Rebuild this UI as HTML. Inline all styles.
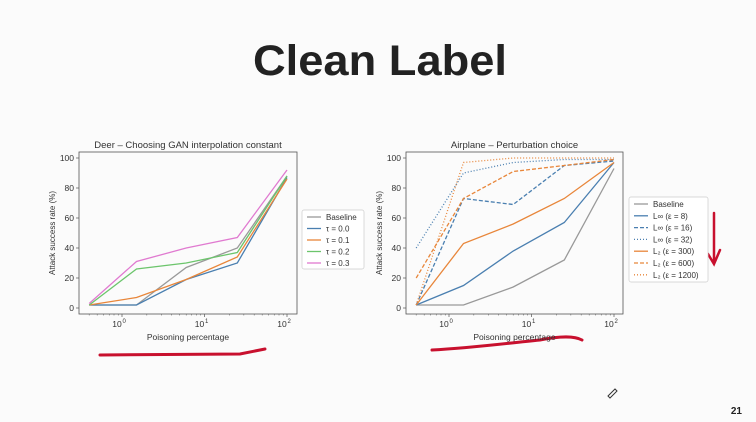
<!DOCTYPE html>
<html><head><meta charset="utf-8"><style>
html,body{margin:0;padding:0;background:#fbfbfb;}
svg{display:block;font-family:"Liberation Sans","DejaVu Sans",sans-serif;}
</style></head><body>
<svg id="s" width="756" height="422" viewBox="0 0 756 422" xmlns="http://www.w3.org/2000/svg">
<rect width="756" height="422" fill="#fbfbfb"/>
<text x="380" y="75" text-anchor="middle" font-size="43" font-weight="bold" fill="#222" textLength="254" lengthAdjust="spacingAndGlyphs">Clean Label</text>
<text x="742" y="414" text-anchor="end" font-size="10" font-weight="bold" fill="#222">21</text>
<path d="M100,355 L240,354 L265,349" stroke="#c8102e" stroke-width="3" fill="none" stroke-linecap="round"/>
<path d="M432,350 C470,348 500,344 540,340 C560,336 575,336 582,340" stroke="#c8102e" stroke-width="3" fill="none" stroke-linecap="round"/>
<path d="M714,213 L714,262 M708,254 L714,264 L720,250" stroke="#c8102e" stroke-width="2.5" fill="none" stroke-linecap="round"/>
<path d="M608,396 L615,389 L617,391 L610,398 Z" stroke="#333" stroke-width="1" fill="none"/>
<g id="c1"></g>
<g id="c2"></g>
</svg>
<script>
const xVals = [0.4, 1.5, 6, 25, 100];
const yTicks = [0, 20, 40, 60, 80, 100];
const xTickExp = [0, 1, 2];
const deerLabels = ["Baseline", "τ = 0.0", "τ = 0.1", "τ = 0.2", "τ = 0.3"];
const deerBaseline = [2, 2, 27, 40, 88];
const deerT00 = [2, 2, 19, 30, 87];
const deerT01 = [2, 7, 19, 34, 86];
const deerT02 = [2, 26, 30, 37, 88];
const deerT03 = [3, 31, 40, 47, 92];
const airLabels = ["Baseline", "L∞ (ε = 8)", "L∞ (ε = 16)", "L∞ (ε = 32)", "L₂ (ε = 300)", "L₂ (ε = 600)", "L₂ (ε = 1200)"];
const airBaseline = [2, 2, 14, 32, 93];
const airLinf8 = [2, 15, 38, 57, 97];
const airLinf16 = [2, 73, 69, 95, 98];
const airLinf32 = [40, 90, 97, 99, 99];
const airL2_300 = [2, 43, 56, 73, 97];
const airL2_600 = [20, 73, 91, 95, 99];
const airL2_1200 = [2, 97, 100, 100, 100];

const NS = "http://www.w3.org/2000/svg";
function mk(parent, tag, attrs, text) {
  const e = document.createElementNS(NS, tag);
  for (const k in attrs) e.setAttribute(k, attrs[k]);
  if (text !== undefined) e.textContent = text;
  parent.appendChild(e);
  return e;
}
const GRAY="#999", BLUE="#4a7fb0", ORANGE="#e8863a", GREEN="#6cc56c", PINK="#e07ad0";

function chart(g, cfg) {
  const xs = v => cfg.x0 + (Math.log10(v)) * cfg.dec;
  const ys = v => cfg.y0 - v * (cfg.y0 - cfg.y100) / 100;
  const t = mk(g, "text", {x:(cfg.L+cfg.R)/2, y:cfg.T-4, "text-anchor":"middle", "font-size":"9.5", fill:"#333"}, cfg.title);
  
  
  yTicks.forEach(v => {
    const y = ys(v);
    const tk = mk(g, "line", {x1:cfg.L-3, x2:cfg.L, y1:y, y2:y, stroke:"#555", "stroke-width":"0.7"});
    
    
    const lb = mk(g, "text", {x:cfg.L-5, y:y+3, "text-anchor":"end", "font-size":"8.5", fill:"#333"}, String(v));
    
    
  });
  xTickExp.forEach(e => {
    const x = xs(Math.pow(10, e));
    const tk = mk(g, "line", {x1:x, x2:x, y1:cfg.B, y2:cfg.B+3, stroke:"#555", "stroke-width":"0.7"});
    
    
    const lb = mk(g, "text", {x:x-5, y:cfg.B+13, "text-anchor":"middle", "font-size":"8.5", fill:"#333"}, "10");
    
    
    mk(g, "text", {x:x+0.5, y:cfg.B+9, "font-size":"6", fill:"#333"}, String(e));
  });
  for (let d = -1; d < 2; d++) for (let m = 2; m < 10; m++) {
    const x = xs(m * Math.pow(10, d));
    if (x < cfg.L || x > cfg.R) continue;
    mk(g, "line", {x1:x, x2:x, y1:cfg.B, y2:cfg.B+1.5, stroke:"#555", "stroke-width":"0.5"});
  }
  const xl = mk(g, "text", {x:(cfg.L+cfg.R)/2, y:cfg.B+26, "text-anchor":"middle", "font-size":"8.5", fill:"#333"}, "Poisoning percentage");
  
  
  const yl = mk(g, "text", {x:0, y:0, "text-anchor":"middle", "font-size":"8", fill:"#333", transform:`translate(${cfg.L-24},${(cfg.T+cfg.B)/2}) rotate(-90)`}, "Attack success rate (%)");
  
  
  cfg.series.forEach(s => {
    const pts = s.data.map((v, i) => xs(xVals[i]).toFixed(1) + "," + ys(v).toFixed(1)).join(" ");
    const pl = mk(g, "polyline", {points:pts, fill:"none", stroke:s.color, "stroke-width":"1.3", "stroke-dasharray":s.dash||"none"});
    
    
  });
  const fr = mk(g, "rect", {x:cfg.L, y:cfg.T, width:cfg.R-cfg.L, height:cfg.B-cfg.T, fill:"none", stroke:"#555", "stroke-width":"0.8"});
  
  
  const lg = cfg.leg;
  const lb = mk(g, "rect", {x:lg.x, y:lg.y, width:lg.w, height:lg.h, fill:"#fff", stroke:"#ccc", "stroke-width":"0.7", rx:"2"});
  
  
  cfg.series.forEach((s, i) => {
    const y = lg.y + 7 + i * lg.step;
    const ln = mk(g, "line", {x1:lg.x+5, x2:lg.x+19, y1:y, y2:y, stroke:s.color, "stroke-width":"1.3", "stroke-dasharray":s.dash||"none"});
    
    
    const tx = mk(g, "text", {x:lg.x+24, y:y+3, "font-size":"8", fill:"#333"}, cfg.labels[i]);
    
    
  });
}
chart(document.getElementById("c1"), {
  title:"Deer – Choosing GAN interpolation constant",
  L:79, R:297, T:152, B:314, x0:122, dec:82.5, y0:308, y100:158,
  labels: deerLabels,
  series:[{data:deerBaseline,color:GRAY},{data:deerT00,color:BLUE},{data:deerT01,color:ORANGE},{data:deerT02,color:GREEN},{data:deerT03,color:PINK}],
  leg:{x:302,y:210,w:62,h:59,step:11.5}
});
chart(document.getElementById("c2"), {
  title:"Airplane – Perturbation choice",
  L:406, R:623, T:152, B:314, x0:449, dec:82.5, y0:308, y100:158,
  labels: airLabels,
  series:[{data:airBaseline,color:GRAY},{data:airLinf8,color:BLUE},{data:airLinf16,color:BLUE,dash:"4,2"},{data:airLinf32,color:BLUE,dash:"1,2"},{data:airL2_300,color:ORANGE},{data:airL2_600,color:ORANGE,dash:"4,2"},{data:airL2_1200,color:ORANGE,dash:"1,2"}],
  leg:{x:629,y:197,w:79,h:85,step:11.8}
});
</script>
</body></html>
